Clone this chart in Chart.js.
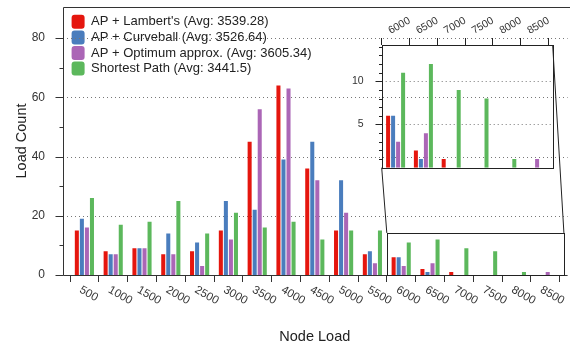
<!DOCTYPE html>
<html>
<head>
<meta charset="utf-8">
<script src="https://cdn.jsdelivr.net/npm/chart.js@4.4.1/dist/chart.umd.min.js"></script>
<style>
  html, body { margin: 0; padding: 0; background: #fff; }
  #wrap { position: relative; width: 570px; height: 348px; }
  #main { position: absolute; left: 0; top: 0; }
  #inset { position: absolute; left: 330px; top: 0; pointer-events: none; }
</style>
</head>
<body>
<div id="wrap">
  <canvas id="main" width="570" height="348"></canvas>
  <canvas id="inset" width="240" height="180"></canvas>
</div>
<script>
// histogram of node loads, one bin every 500
const nodeLoads = ['500', '1000', '1500', '2000', '2500', '3000', '3500', '4000', '4500',
                   '5000', '5500', '6000', '6500', '7000', '7500', '8000', '8500'];
const lambert   = [15, 8, 9, 7, 8, 15, 45, 64, 36, 15, 7, 6, 2, 1, 0, 0, 0];
const curveball = [19, 7, 9, 14, 11, 25, 22, 39, 45, 32, 8, 6, 1, 0, 0, 0, 0];
const optimum   = [16, 7, 9, 7, 3, 12, 56, 63, 32, 21, 4, 3, 4, 0, 0, 0, 1];
const shortest  = [26, 17, 18, 25, 14, 21, 16, 18, 12, 15, 15, 11, 12, 9, 8, 1, 0];
const seriesNames = [
  "AP + Lambert's (Avg: 3539.28)",
  'AP + Curveball (Avg: 3526.64)',
  'AP + Optimum approx. (Avg: 3605.34)',
  'Shortest Path (Avg: 3441.5)'
];
const mainYTicks = [0, 20, 40, 60, 80];
const insetYTicks = [5, 10];
const insetFrom = 11;          // inset starts at the 6000 bin
const zoomX = [10.5, 16.65];   // zoomed window, in bin index
const zoomY = [0, 14.2];       // zoomed window, in load count

const FONT = '"Liberation Sans", Arial, Helvetica, sans-serif';
const INK = '#333';
const colors = ['#e5160e', '#4a7dbd', '#ab66b6', '#5cb85c'];
Chart.defaults.font.family = FONT;
Chart.defaults.color = INK;

const allSeries = [lambert, curveball, optimum, shortest];

function makeDatasets(from) {
  return allSeries.map((s, i) => ({
    label: seriesNames[i],
    data: s.slice(from),
    backgroundColor: colors[i],
    borderWidth: 0
  }));
}

function dottedLine(ctx, x0, x1, y) {
  ctx.beginPath();
  ctx.moveTo(x0, y);
  ctx.lineTo(x1, y);
  ctx.stroke();
}

// ---------- inset ----------
const insetDecor = {
  id: 'insetDecor',
  beforeDatasetsDraw(chart) {
    const {ctx, chartArea: a, scales: {x, y}} = chart;
    const right = x.getPixelForValue(zoomX[1] - insetFrom);
    ctx.save();
    ctx.strokeStyle = '#777';
    ctx.setLineDash([1, 3]);
    insetYTicks.forEach(v => dottedLine(ctx, a.left, right, Math.round(y.getPixelForValue(v)) + 0.5));
    ctx.restore();
  },
  afterDraw(chart) {
    const {ctx, chartArea: a, scales: {x, y}} = chart;
    const right = x.getPixelForValue(zoomX[1] - insetFrom);
    ctx.save();
    ctx.strokeStyle = '#222';
    ctx.lineWidth = 1;
    const l = Math.round(a.left) + 0.5, t = Math.round(a.top) + 0.5;
    const r = Math.round(right) + 0.5, b = Math.round(a.bottom) + 0.5;
    ctx.strokeRect(l, t, r - l, b - t);
    ctx.beginPath();
    for (let v = 1; v <= 14; v++) {
      const py = Math.round(y.getPixelForValue(v)) + 0.5;
      const len = insetYTicks.includes(v) ? 7 : 3.5;
      ctx.moveTo(l - len, py);
      ctx.lineTo(l, py);
    }
    ctx.stroke();
    ctx.restore();
  }
};

const insetChart = new Chart(document.getElementById('inset'), {
  type: 'bar',
  data: { labels: nodeLoads.slice(insetFrom), datasets: makeDatasets(insetFrom) },
  options: {
    responsive: false,
    animation: false,
    categoryPercentage: 0.72,
    barPercentage: 0.8,
    layout: { padding: { left: 0, top: 0, right: 21.5, bottom: 12.3 } },
    plugins: { legend: { display: false }, tooltip: { enabled: false } },
    scales: {
      x: {
        position: 'top',
        grid: { drawOnChartArea: false, offset: true, tickLength: 7, color: '#222' },
        border: { display: false },
        ticks: { minRotation: 30, maxRotation: 30, autoSkip: false, padding: 1,
                 font: { size: 10.5 }, color: INK },
        afterFit(s) { s.height = 45; s.paddingLeft = s.paddingRight = 0; }
      },
      y: {
        min: zoomY[0],
        max: zoomY[1],
        grid: { display: false },
        border: { display: false },
        ticks: { stepSize: 5, includeBounds: false, padding: 10, font: { size: 10.5 }, color: INK,
                 callback: v => insetYTicks.includes(v) ? v : '' },
        afterFit(s) { s.width = 51.7; s.paddingTop = s.paddingBottom = 0; }
      }
    }
  },
  plugins: [insetDecor]
});

// ---------- main chart ----------
const mainDecor = {
  id: 'mainDecor',
  beforeDatasetsDraw(chart) {
    const {ctx, chartArea: a, scales: {y}} = chart;
    ctx.save();
    ctx.strokeStyle = '#777';
    ctx.setLineDash([1, 3]);
    mainYTicks.slice(1).forEach(v =>
      dottedLine(ctx, a.left - 7, a.right + 8, Math.round(y.getPixelForValue(v)) + 0.5));
    ctx.restore();
  },
  afterDraw(chart) {
    const {ctx, chartArea: a, scales: {x, y}} = chart;
    ctx.save();
    ctx.strokeStyle = INK;
    ctx.lineWidth = 1;
    const sx = Math.round(a.left) - 6.5;
    const by = Math.round(a.bottom) + 0.5;
    const ty = Math.round(a.top) + 0.5;
    ctx.beginPath();
    ctx.moveTo(sx, ty); ctx.lineTo(sx, by);
    ctx.lineTo(a.right + 8, by);
    ctx.moveTo(sx, ty); ctx.lineTo(chart.width, ty);
    for (let v = 0; v <= 80; v += 10) {
      const py = Math.round(y.getPixelForValue(v)) + 0.5;
      const len = v % 20 === 0 ? 8 : 4;
      ctx.moveTo(sx - len, py);
      ctx.lineTo(sx, py);
    }
    ctx.stroke();

    // rotated bin labels
    ctx.fillStyle = INK;
    ctx.font = '11.5px ' + FONT;
    ctx.textAlign = 'left';
    ctx.textBaseline = 'middle';
    nodeLoads.forEach((lab, i) => {
      const px = x.getPixelForTick(i);
      ctx.save();
      ctx.translate(px - 4, a.bottom + 14);
      ctx.rotate(Math.PI / 6);
      ctx.fillText(lab, 0, 0);
      ctx.restore();
    });

    // zoom window and connectors to the inset
    const rx0 = x.getPixelForValue(zoomX[0]), rx1 = x.getPixelForValue(zoomX[1]);
    const ry0 = y.getPixelForValue(zoomY[1]), ry1 = y.getPixelForValue(zoomY[0]);
    ctx.strokeStyle = '#222';
    ctx.strokeRect(Math.round(rx0) + 0.5, Math.round(ry0) + 0.5,
                   Math.round(rx1 - rx0), Math.round(ry1 - ry0));
    const ia = insetChart.chartArea;
    const off = 330;
    const iRight = insetChart.scales.x.getPixelForValue(zoomX[1] - insetFrom) + off;
    ctx.beginPath();
    ctx.moveTo(ia.left + off, ia.bottom); ctx.lineTo(rx0, ry0);
    ctx.moveTo(iRight, ia.top); ctx.lineTo(rx1, ry0);
    ctx.stroke();
    ctx.restore();
  }
};

new Chart(document.getElementById('main'), {
  type: 'bar',
  data: { labels: nodeLoads, datasets: makeDatasets(0) },
  options: {
    responsive: false,
    animation: false,
    categoryPercentage: 0.7,
    barPercentage: 0.8,
    layout: { padding: { left: 0, top: 7, right: 10.4, bottom: 0 } },
    plugins: {
      tooltip: { enabled: false },
      legend: {
        position: 'chartArea',
        align: 'start',
        title: { display: true, text: ' ', font: { size: 1 }, padding: { top: 12, bottom: 0 } },
        labels: {
          boxWidth: 13, boxHeight: 14, padding: 1.6,
          useBorderRadius: true, borderRadius: 3,
          font: { size: 13 }, color: '#222'
        }
      }
    },
    scales: {
      x: {
        grid: { drawOnChartArea: false, offset: true, tickLength: 7, color: INK },
        border: { display: false },
        ticks: { display: false },
        title: { display: true, text: 'Node Load', font: { size: 14.5 }, color: '#222',
                 padding: { top: 0, bottom: 2 } },
        afterFit(s) { s.height = 73; s.paddingLeft = s.paddingRight = 0; }
      },
      y: {
        min: 0,
        max: 90.5,
        grid: { display: false },
        border: { display: false },
        ticks: { stepSize: 20, includeBounds: false, padding: 17, font: { size: 12 }, color: INK,
                 callback: v => mainYTicks.includes(v) ? v : '' },
        title: { display: true, text: 'Load Count', font: { size: 14.5 }, color: '#222',
                 padding: { top: 13, bottom: 0 } },
        afterFit(s) { s.width = 70; s.paddingTop = s.paddingBottom = 0; }
      }
    }
  },
  plugins: [mainDecor]
});
</script>
</body>
</html>
